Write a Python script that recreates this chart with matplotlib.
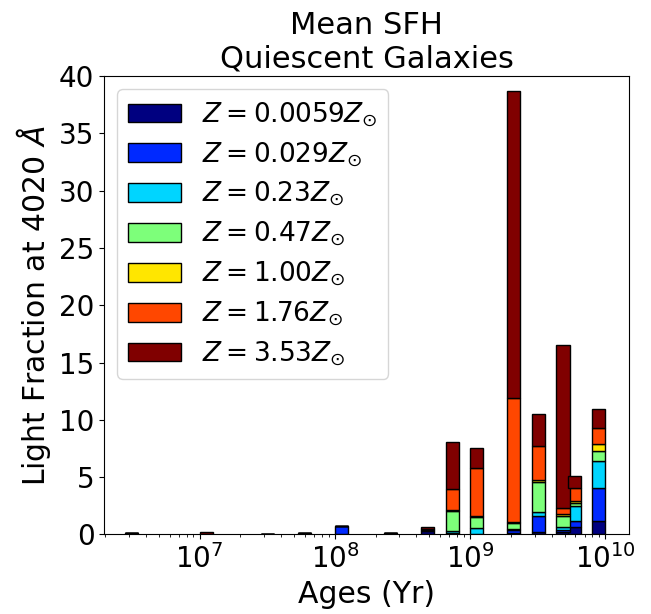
import numpy as np
import matplotlib
matplotlib.use("Agg")
import matplotlib.pyplot as plt

# ages of the SSP base (yr), left edge of each bar
ages = np.array([2.8e6, 1.0e7, 2.85e7, 5.3e7, 1.0e8, 2.3e8, 4.3e8,
                 6.6e8, 1.0e9, 1.87e9, 2.84e9, 4.34e9, 5.3e9, 8.0e9])

# light fraction per metallicity, bottom to top of the stack
z_0059 = [0.12, 0.00, 0.00, 0.10, 0.02, 0.12, 0.30, 0.10, 0.02, 0.15, 0.20, 0.20, 0.64, 1.19]
z_029 = [0.00, 0.00, 0.00, 0.00, 0.72, 0.00, 0.05, 0.05, 0.02, 0.20, 1.45, 0.17, 0.58, 2.91]
z_23 = [0.00, 0.00, 0.00, 0.00, 0.00, 0.00, 0.00, 0.15, 0.50, 0.15, 0.30, 0.29, 1.25, 2.32]
z_47 = [0.00, 0.00, 0.00, 0.00, 0.00, 0.00, 0.00, 1.75, 1.01, 0.48, 2.62, 0.93, 0.29, 0.85]
z_100 = [0.00, 0.00, 0.00, 0.00, 0.00, 0.00, 0.05, 0.05, 0.03, 0.10, 0.20, 0.17, 0.12, 0.67]
z_176 = [0.00, 0.00, 0.00, 0.00, 0.00, 0.00, 0.05, 1.90, 4.19, 10.80, 2.99, 0.58, 1.22, 1.34]
z_353 = [0.05, 0.20, 0.03, 0.05, 0.00, 0.05, 0.18, 4.05, 1.78, 26.80, 2.79, 14.16, 0.99, 1.63]

labels = [r'$Z = 0.0059Z_{\odot}$', r'$Z = 0.029Z_{\odot}$', r'$Z = 0.23Z_{\odot}$',
          r'$Z = 0.47Z_{\odot}$', r'$Z = 1.00Z_{\odot}$', r'$Z = 1.76Z_{\odot}$',
          r'$Z = 3.53Z_{\odot}$']

fractions = [z_0059, z_029, z_23, z_47, z_100, z_176, z_353]
colors = plt.cm.jet(np.linspace(0, 1, len(fractions)))

fig = plt.figure(figsize=(6.51, 6.14), dpi=100)
ax = fig.add_axes([0.16, 0.1295, 0.8067, 0.7465])

bottom = np.zeros(len(ages))
for frac, col, lab in zip(fractions, colors, labels):
    frac = np.array(frac)
    ax.bar(ages, frac, width=0.25*ages, bottom=bottom, align='edge',
           color=col, edgecolor='k', linewidth=1, label=lab)
    bottom = bottom + frac

ax.set_xscale('log')
ax.set_xlim(1.97e6, 1.5e10)
ax.set_ylim(0, 40)
ax.tick_params(labelsize=20)
ax.set_xlabel('Ages (Yr)', fontsize=21.5)
ax.set_ylabel(r'Light Fraction at 4020 $\AA$', fontsize=21.5)
ax.set_title('Mean SFH\nQuiescent Galaxies', fontsize=22)
ax.legend(loc='upper left', fontsize=19, labelspacing=0.42)

fig.savefig('out.png', dpi=100)
